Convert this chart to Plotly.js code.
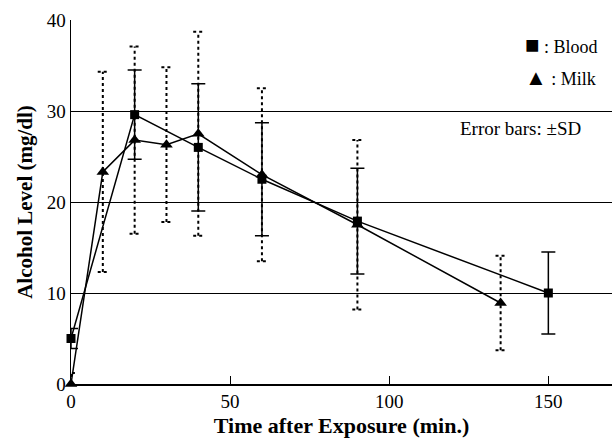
<!DOCTYPE html>
<html>
<head>
<meta charset="utf-8">
<script src="https://cdn.plot.ly/plotly-3.0.1.min.js"></script>
<style>html,body{margin:0;padding:0;background:#fff;}#chart{width:612px;height:441px;}</style>
</head>
<body>
<div id="chart"></div>
<script>
// Data
const bloodTime = [0, 20, 40, 60, 90, 150];
const bloodLevel = [5.0, 29.6, 26.0, 22.5, 17.9, 10.0];
const bloodSD = [1.1, 4.9, 7.0, 6.2, 5.8, 4.5];

const milkTime = [0, 10, 20, 30, 40, 60, 90, 135];
const milkLevel = [0.0, 23.3, 26.8, 26.3, 27.5, 23.0, 17.5, 8.9];
const milkSD = [1.2, 11.0, 10.3, 8.5, 11.2, 9.5, 9.3, 5.2];

const xTicks = [0, 50, 100, 150];
const yTicks = [0, 10, 20, 30, 40];

const FONT = "Liberation Serif";
const capHalf = 1.6; // cap half-width in x units for the dotted bars

// Build dotted error bars for milk from its values and SDs
const ebX = [], ebY = [];
milkTime.forEach((t, i) => {
  const lo = milkLevel[i] - milkSD[i], hi = milkLevel[i] + milkSD[i];
  ebX.push(t, t, null, t - capHalf, t + capHalf, null, t - capHalf, t + capHalf, null);
  ebY.push(lo, hi, null, hi, hi, null, lo, lo, null);
});

const traces = [
  {
    x: ebX, y: ebY, mode: 'lines', type: 'scatter', hoverinfo: 'skip',
    line: {color: '#000', width: 2, dash: '3px,3px'}, showlegend: false, cliponaxis: false
  },
  {
    x: bloodTime, y: bloodLevel, mode: 'lines+markers', type: 'scatter', name: 'Blood',
    line: {color: '#000', width: 1.5},
    marker: {symbol: 'square', size: 9, color: '#000'},
    error_y: {type: 'data', array: bloodSD, visible: true, color: '#000', thickness: 1.5, width: 7},
    showlegend: false, cliponaxis: false
  },
  {
    x: milkTime, y: milkLevel, mode: 'lines+markers', type: 'scatter', name: 'Milk',
    line: {color: '#000', width: 1.5},
    marker: {symbol: 'triangle-up', size: 11, color: '#000'},
    showlegend: false, cliponaxis: false
  }
];

const layout = {
  width: 612, height: 441,
  margin: {l: 71, r: 0, t: 20, b: 57},
  paper_bgcolor: '#fff', plot_bgcolor: '#fff',
  font: {family: FONT, color: '#000', size: 18},
  xaxis: {
    range: [0, 170], tickvals: xTicks, ticktext: xTicks.map(String),
    ticks: 'inside', ticklen: 8, tickwidth: 1.2, tickcolor: '#000',
    showgrid: false, zeroline: false, showline: true, linecolor: '#000', linewidth: 1.5,
    tickfont: {family: FONT, size: 19, color: '#000'},
    title: {text: '<b>Time after Exposure (min.)</b>', font: {family: FONT, size: 22, color: '#000'}, standoff: 6}
  },
  yaxis: {
    range: [0, 40], tickvals: yTicks, ticktext: yTicks.map(String),
    ticks: '', showgrid: true, gridcolor: '#000', gridwidth: 1,
    zeroline: false, showline: true, linecolor: '#000', linewidth: 1.5,
    tickfont: {family: FONT, size: 19, color: '#000'},
    title: {text: '<b>Alcohol Level (mg/dl)</b>', font: {family: FONT, size: 21, color: '#000'}, standoff: 8}
  },
  annotations: [
    {xref: 'paper', yref: 'paper', x: 0.835, y: 0.931, xanchor: 'left', yanchor: 'middle',
     text: '<span style="font-size:24px">\u25A0</span> : Blood', showarrow: false, font: {family: FONT, size: 18, color: '#000'}},
    {xref: 'paper', yref: 'paper', x: 0.835, y: 0.841, xanchor: 'left', yanchor: 'middle',
     text: '<span style="font-size:22px">\u25B2</span> : Milk', showarrow: false, font: {family: FONT, size: 18, color: '#000'}},
    {xref: 'paper', yref: 'paper', x: 0.946, y: 0.703, xanchor: 'right', yanchor: 'middle',
     text: 'Error bars: \u00B1SD', showarrow: false, font: {family: FONT, size: 19, color: '#000'}}
  ],
  showlegend: false
};

Plotly.newPlot('chart', traces, layout, {displayModeBar: false, staticPlot: true});
</script>
</body>
</html>
